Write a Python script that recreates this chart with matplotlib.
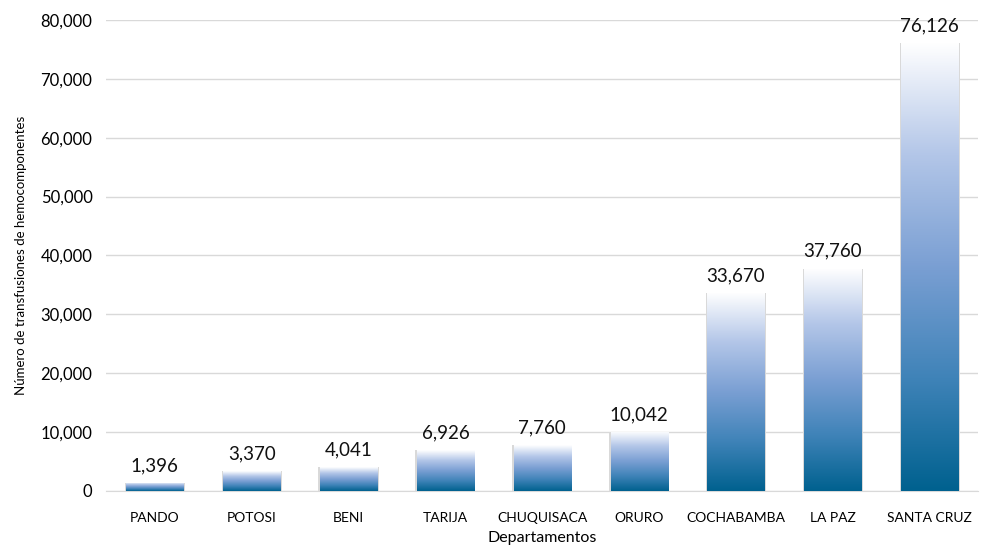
import numpy as np
import matplotlib
matplotlib.use('Agg')
from matplotlib import pyplot as plt
from matplotlib.colors import LinearSegmentedColormap
from matplotlib.ticker import FuncFormatter

plt.rcParams['font.family'] = ['Lato', 'DejaVu Sans']

# datos por departamento
departamentos = ['PANDO', 'POTOSI', 'BENI', 'TARIJA', 'CHUQUISACA', 'ORURO',
                 'COCHABAMBA', 'LA PAZ', 'SANTA CRUZ']
transfusiones = [1396, 3370, 4041, 6926, 7760, 10042, 33670, 37760, 76126]

# degradado blanco arriba -> azul abajo
cmap = LinearSegmentedColormap.from_list(
    'grad', ['#00618f', '#3f83b8', '#7a9fd3', '#b3c6e8', '#ffffff'])

fig = plt.figure(figsize=(9.85, 5.47), dpi=100)
ax = fig.add_axes([0.108, 0.1025, 0.885, 0.861])

x = np.arange(len(departamentos))
ancho = 0.59
barras = ax.bar(x, transfusiones, width=ancho, color='none', zorder=3)

grad = np.linspace(0, 1, 256).reshape(-1, 1)
for b in barras:
    x0, y0 = b.get_x(), b.get_y()
    w, h = b.get_width(), b.get_height()
    # sombra suave
    ax.bar(x0 + w / 2, h, width=w + 0.03, color='#d9d9d9', zorder=2)
    im = ax.imshow(grad, cmap=cmap, aspect='auto', origin='lower',
                   extent=[x0, x0 + w, y0, y0 + h], zorder=3)
    im.set_clip_path(b)

for xi, v in zip(x, transfusiones):
    ax.text(xi, v + 1500, f'{v:,}', ha='center', va='bottom', fontsize=13.5,
            color='#111111')

ax.set_xlim(-0.5, len(departamentos) - 0.5)
ax.set_ylim(0, 80000)
ax.set_yticks(np.arange(0, 80001, 10000))
ax.yaxis.set_major_formatter(FuncFormatter(lambda v, p: f'{int(v):,}'))
ax.set_xticks(x)
ax.set_xticklabels(departamentos, fontsize=10)
ax.tick_params(axis='y', labelsize=12, length=0, pad=10)
ax.tick_params(axis='x', length=0, pad=15)
ax.grid(axis='y', color='#d9d9d9', linewidth=1, zorder=0)
for s in ['top', 'right', 'left']:
    ax.spines[s].set_visible(False)
ax.spines['bottom'].set_color('#d9d9d9')

ax.set_xlabel('Departamentos', fontsize=11.5, labelpad=5)
ax.set_ylabel('Número de transfusiones de hemocomponentes', fontsize=9.5,
              labelpad=10)

fig.savefig('out.png', dpi=100)
